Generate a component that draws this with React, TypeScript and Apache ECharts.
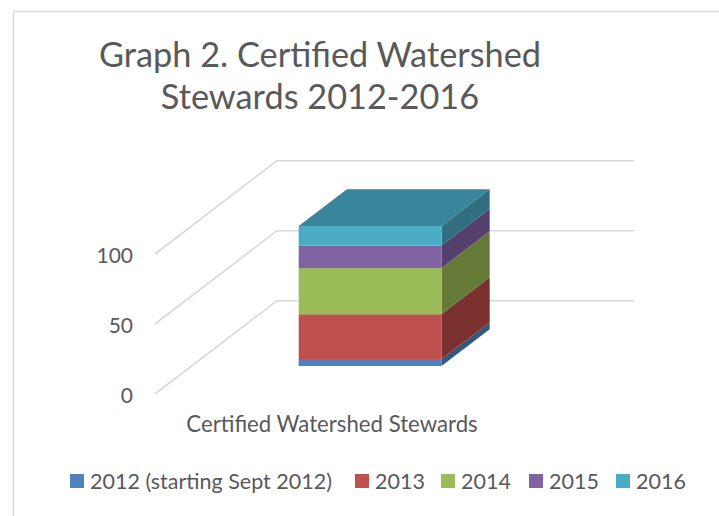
import React, { useEffect, useRef } from "react";
import * as echarts from "echarts";

const categories = ["Certified Watershed Stewards"];
const yearNames = ["2012 (starting Sept 2012)", "2013", "2014", "2015", "2016"];
const yearValues = [5, 32, 33, 16, 14];
const frontColors = ["#4F81BD", "#C0504D", "#9BBB59", "#8064A2", "#4BACC6"];
const sideColors = ["#35587F", "#7A302F", "#667A38", "#553F6C", "#316E80"];
const legendLefts = [70, 355, 441, 529, 616];
const topColor = "#39859C";
const yTicks = [0, 50, 100];
const DEPTH_X = 122;
const DEPTH_Y = -93.3;
const GAP = 0.3;
const BAR_DEPTH = 0.395;
const FONT = "Lato, Carlito, sans-serif";

export default function App() {
  const ref = useRef<HTMLDivElement>(null);
  useEffect(() => {
    document.body.style.margin = "0";
    const chart = echarts.init(ref.current!, undefined, { renderer: "svg" });
    let acc = 0;
    const bars = yearNames.map((name, i) => {
      const base = acc;
      acc += yearValues[i];
      const top = acc;
      return {
        type: "custom" as const,
        name,
        itemStyle: { color: frontColors[i] },
        encode: { x: 0, y: [1, 2] },
        z: 3,
        data: [[0, base, top]],
        renderItem: (_p: any, api: any) => {
          const a = api.coord([api.value(0), api.value(1)]);
          const b = api.coord([api.value(0), api.value(2)]);
          const w = api.size([1, 0])[0] * 0.4;
          const x0 = a[0] - w / 2 + GAP * DEPTH_X;
          const x1 = x0 + w;
          const yb = a[1] + GAP * DEPTH_Y;
          const yt = b[1] + GAP * DEPTH_Y;
          const dx = BAR_DEPTH * DEPTH_X;
          const dy = BAR_DEPTH * DEPTH_Y;
          const children: any[] = [
            {
              type: "polygon",
              shape: { points: [[x1, yb], [x1 + dx, yb + dy], [x1 + dx, yt + dy], [x1, yt]] },
              style: { fill: sideColors[i] },
            },
            {
              type: "rect",
              shape: { x: x0, y: yt, width: w, height: yb - yt },
              style: { fill: frontColors[i] },
            },
          ];
          if (i === yearNames.length - 1) {
            children.push({
              type: "polygon",
              shape: { points: [[x0, yt], [x1, yt], [x1 + dx, yt + dy], [x0 + dx, yt + dy]] },
              style: { fill: topColor },
            });
          }
          return { type: "group", children };
        },
      };
    });
    chart.setOption({
      animation: false,
      backgroundColor: "#fff",
      title: {
        text: "Graph 2. Certified Watershed\nStewards 2012-2016",
        left: 320,
        top: 32,
        padding: 0,
        textAlign: "center",
        textStyle: { fontFamily: FONT, fontSize: 34.3, fontWeight: 400, color: "#595959", lineHeight: 42 },
      },
      legend: yearNames.map((name, i) => ({
        left: legendLefts[i],
        top: 470,
        padding: 0,
        icon: "rect",
        itemWidth: 14,
        itemHeight: 14,
        data: [name],
        selectedMode: false,
        textStyle: { fontFamily: FONT, fontSize: 21.5, color: "#595959", padding: [0, 0, 0, 1] },
      })),
      grid: { left: 155, width: 357, top: 254, height: 140 },
      xAxis: {
        type: "category",
        data: categories,
        axisLine: { show: false },
        axisTick: { show: false },
        axisLabel: { fontFamily: FONT, fontSize: 22.2, color: "#595959", margin: 18, padding: [0, 3, 0, 0] },
      },
      yAxis: {
        type: "value",
        min: 0,
        max: 100,
        interval: 50,
        splitLine: { show: false },
        axisLine: { show: false },
        axisTick: { show: false },
        axisLabel: { fontFamily: FONT, fontSize: 21, color: "#595959", margin: 22, padding: [3, 0, 0, 0] },
      },
      graphic: [
        {
          type: "rect",
          silent: true,
          z: -1,
          shape: { x: 13.5, y: 11.5, width: 760, height: 560 },
          style: { fill: "none", stroke: "#D9D9D9", lineWidth: 1.5 },
        },
      ],
      series: [
        {
          type: "custom",
          name: "gridlines",
          z: 1,
          silent: true,
          encode: { y: 0 },
          data: yTicks.map((v) => [v]),
          renderItem: (p: any, api: any) => {
            const y = api.coord([0, api.value(0)])[1];
            const x = p.coordSys.x;
            const w = p.coordSys.width;
            return {
              type: "polyline",
              shape: { points: [[x, y], [x + DEPTH_X, y + DEPTH_Y], [x + w + DEPTH_X, y + DEPTH_Y]] },
              style: { fill: "none", stroke: "#D9D9D9", lineWidth: 1.6 },
            };
          },
        },
        ...bars,
      ],
    });
    return () => chart.dispose();
  }, []);
  return <div ref={ref} style={{ width: 719, height: 516, position: "absolute", left: 0, top: 0 }} />;
}
